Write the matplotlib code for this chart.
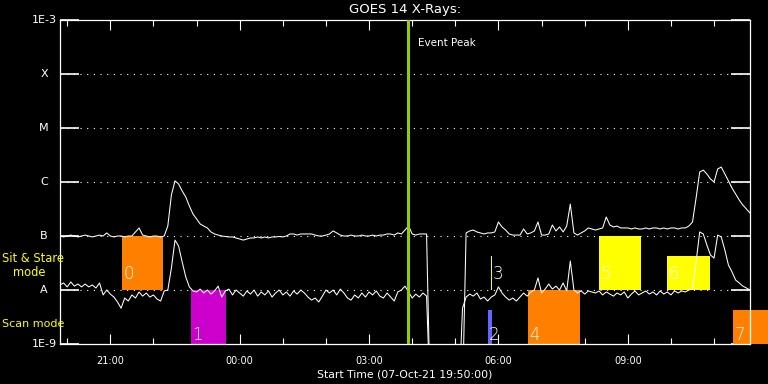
import numpy as np
import matplotlib
matplotlib.use("Agg")
import matplotlib.pyplot as plt
from matplotlib.patches import Rectangle
import matplotlib.transforms as mtransforms

# GOES 14 light curves, 5-minute samples starting 19:50 (units of 1E-9 W/m^2)
start_label = "Start Time (07-Oct-21 19:50:00)"
step_min = 5

short_ch = [
    12.4, 13.5, 11.4, 14.1, 11.8, 12.9, 11.4, 12.9, 11.4, 12.4, 10.9, 13.5, 8.1, 10, 8.4,
    7.4, 6.0, 4.6, 7.1, 6.25, 8.1, 7.1, 9.2, 7.7, 8.8, 7.4, 8.1, 6.8, 6.25, 9.6, 10,
    25.5, 84, 65, 33, 17.4, 11.4, 9.6, 9.2,
    10.4, 8.8, 10, 8.4, 9.6, 11.8, 7.4, 9.6, 10.4, 8.1, 10, 8.8, 7.7, 9.6, 8.4, 10,
    7.7, 9.2, 8.1, 9.6, 7.4, 8.8, 10, 8.1, 9.2, 7.7, 9.6, 8.4, 10, 8.8, 7.4, 6.5,
    7.1, 6.0, 7.7, 10, 8.8,
    10, 8.1, 10.4, 8.8, 7.1, 6.5, 8.1, 7.1, 8.8, 7.4, 9.2, 8.1, 9.6, 7.7, 7.1, 8.8,
    7.4, 6.25, 9.2, 10, 11.8, 9.2, 7.1, 8.4, 7.4, 8.8, 7.7,
    0.1, 0.1, 0.1, 0.1, 0.1, 0.1, 0.1, 0.1, 0.1,
    4.6, 7.4, 8.4, 7.7, 8.8, 6.8, 7.4, 6.25, 7.4, 8.1, 11.4, 8.8, 7.4, 6.5, 7.1, 6.25,
    7.4, 8.8, 7.7, 9.2, 10, 16.7, 8.8, 10.4, 12.9, 10.4, 11.8, 10, 13.5, 9.6, 34.4, 10,
    8.8, 9.6, 8.4, 9.6, 9.2,
    8.8, 9.6, 8.1, 9.2, 8.4, 7.7, 8.8, 8.1, 9.2, 7.1, 8.4, 9.6, 8.1, 8.8, 9.6, 8.4,
    9.2, 8.1, 9.6, 8.4, 9.2, 8.1, 9.6, 8.8, 9.6, 9.2, 10, 10.4,
    33, 119, 109, 68, 44.4, 39, 104, 96, 55, 29, 21.6, 15.3, 13.5, 11.8, 10.9, 10,
]

long_ch = [
    100, 96, 100, 104, 100, 96, 100, 104, 100, 96, 100, 104, 100, 114, 100, 96, 100, 100,
    96, 100, 100, 119, 141, 104, 100, 96, 100, 100, 96, 100,
    153, 575, 1050, 918, 681, 527, 359, 256, 206, 167, 153, 141, 119, 109, 104, 100, 98,
    96, 96, 92, 88, 84, 88, 92, 92, 96, 92, 96, 92, 96, 96, 98, 96, 100,
    109, 109, 104, 109, 109, 109, 109, 104, 100, 100, 104, 109, 124, 114, 104, 100,
    100, 104, 100, 100, 104, 100, 100, 104, 100,
    104, 104, 109, 109, 104, 114, 109, 129, 153, 109, 104, 109, 109, 109,
    0.1, 0.1, 0.1, 0.1, 0.1, 0.1, 0.1, 0.1, 0.1, 0.1,
    114, 124, 129, 119, 114, 109, 114, 114, 119, 182, 147, 129, 109, 104, 104, 104, 135,
    109, 114, 124, 182, 104, 104, 109, 160, 124, 147, 119, 153, 390, 114, 104, 114, 124,
    141, 135,
    129, 135, 141, 225, 160, 147, 153, 141, 141, 141, 135, 141, 135, 135,
    141, 135, 141, 141, 135, 141, 135, 141, 141, 135, 141, 141, 153, 182,
    506, 1530, 1660, 1406, 1137, 1000, 1740, 1890, 1410, 1050, 774, 600, 464, 375, 316, 267,
]

# observing-mode boxes: label, start, end (minutes after 19:50), flux low, flux high, colour
box_labels = ["0", "1", "2", "3", "4", "5", "6", "7"]
box_start = [86, 182, 595, 599, 651, 750, 845, 936]
box_end = [143, 231, 601, 601, 724, 808, 904, 985]
box_low = [1e-8, 1e-9, 1e-9, 1e-8, 1e-9, 1e-8, 1e-8, 1e-9]
box_high = [1e-7, 1e-8, 4.3e-9, 4.3e-8, 1e-8, 1e-7, 4.3e-8, 4.3e-9]
box_colors = ["#FF8000", "#CC00CC", "#6464FF", "#FFFF00", "#FF8000", "#FFFF00", "#FFFF00", "#FF8000"]

event_peak = 484  # 03:54

tick_pos = [70, 250, 430, 610, 790]
tick_labels = ["21:00", "00:00", "03:00", "06:00", "09:00"]
level_pos = [1e-9, 1e-8, 1e-7, 1e-6, 1e-5, 1e-4, 1e-3]
level_labels = ["1E-9", "A", "B", "C", "M", "X", "1E-3"]

t = np.arange(len(short_ch)) * step_min
short_flux = np.array(short_ch) * 1e-9
long_flux = np.array(long_ch) * 1e-9

fig = plt.figure(figsize=(7.68, 3.84), dpi=100, facecolor="black")
ax = fig.add_axes([60 / 768, 40 / 384, 690 / 768, 324 / 384])
ax.set_facecolor("black")
ax.set_yscale("log")
ax.set_ylim(1e-9, 1e-3)
ax.set_xlim(0, 960)

# dotted level lines
for lv in level_pos[1:-1]:
    ax.axhline(lv, color="white", ls=(0, (1, 5)), lw=0.8, zorder=1)

# mode boxes
for lab, s, e, lo, hi, c in zip(box_labels, box_start, box_end, box_low, box_high, box_colors):
    ax.add_patch(Rectangle((s, lo), e - s, hi - lo, facecolor=c, edgecolor="none",
                           zorder=2, clip_on=False))
    ty = 1.6e-8 if lo == 1e-8 else 1.2e-9
    tx = s + 2 if lab != "3" else s + 3
    ax.text(tx, ty, lab, color="white", fontsize=12, fontweight="light",
            ha="left", va="baseline", zorder=5)

ax.plot(t, long_flux, color="white", lw=0.75, zorder=3)
ax.plot(t, short_flux, color="white", lw=0.75, zorder=3)

ax.axvline(event_peak, color="#99CC00", lw=2.2, zorder=4)
ax.text(event_peak + 14, 3.7e-4, "Event Peak", color="white", fontsize=7.5,
        ha="left", va="center")

# axes styling
for sp in ax.spines.values():
    sp.set_color("white")
    sp.set_linewidth(0.9)
ax.set_xticks(tick_pos)
ax.set_xticklabels(tick_labels)
ax.set_xticks(np.arange(10, 960, 60), minor=True)
ax.tick_params(axis="x", which="major", direction="in", length=7, width=0.8,
               colors="white", top=True, labelsize=7, pad=9)
ax.tick_params(axis="x", which="minor", direction="in", length=4, width=0.8,
               colors="white", top=True)
ax.set_yticks(level_pos)
ax.set_yticklabels([])
ax.yaxis.set_minor_locator(matplotlib.ticker.NullLocator())
ax.tick_params(axis="y", which="major", direction="in", length=14, width=1.2,
               colors="white", right=True)

trans = mtransforms.blended_transform_factory(ax.transAxes, ax.transData)
for lv, lab in zip(level_pos, level_labels):
    ax.text(-16 / 690, lv, lab, color="white", fontsize=8, ha="center",
            va="center", transform=trans)

ax.set_xlabel(start_label, color="white", fontsize=7.8, labelpad=2)
ax.set_title("GOES 14 X-Rays:", color="white", fontsize=9.5, pad=5)

fig.text(2 / 768, 1 - 258 / 384, "Sit & Stare", color="#FFFF00", fontsize=8.3,
         ha="left", va="center")
fig.text(13 / 768, 1 - 272 / 384, "mode", color="#FFFF00", fontsize=8.3,
         ha="left", va="center")
fig.text(2 / 768, 1 - 324 / 384, "Scan mode", color="#FFFF00", fontsize=8,
         ha="left", va="center")

fig.savefig("out.png", dpi=100, facecolor="black")
